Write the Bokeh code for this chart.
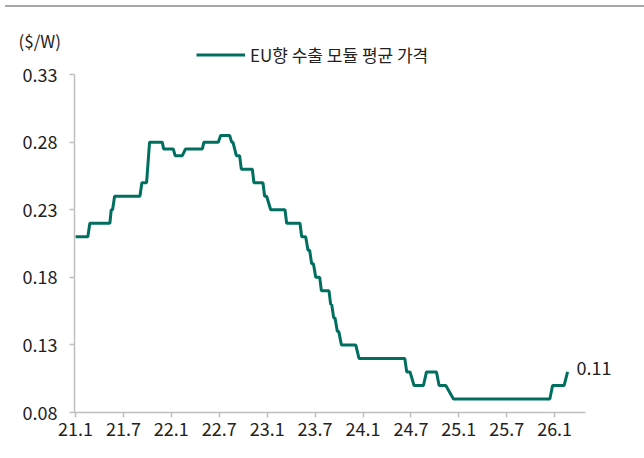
from bokeh.plotting import figure
from bokeh.models import Range1d, FixedTicker, Legend, LegendItem, Label, Div
from bokeh.layouts import column
from bokeh.embed import file_html
from bokeh.resources import INLINE

# months since Jan 2021 (21.1 = 0) and EU export module average price ($/W)
months = [0.00, 1.54, 1.79, 4.30, 4.47, 4.64, 4.89, 8.06, 8.31, 8.90,
          9.27, 10.86, 11.03, 12.24, 12.47, 13.37, 13.78, 15.88, 16.08, 17.88,
          18.17, 19.30, 19.55, 19.71, 20.14, 20.55, 20.76, 22.14, 22.34, 23.47,
          23.68, 23.93, 24.44, 26.23, 26.44, 28.11, 28.32, 28.82, 29.11, 29.32,
          29.57, 29.79, 30.08, 30.58, 30.79, 31.74, 31.95, 32.08, 32.33, 32.49,
          32.79, 32.96, 33.30, 35.09, 35.50, 41.23, 41.48, 41.89, 42.39, 43.57,
          43.95, 45.20, 45.53, 46.37, 47.33, 59.40, 59.74, 61.19, 61.62]
prices = [0.21, 0.21, 0.22, 0.22, 0.23, 0.23, 0.24, 0.24, 0.25, 0.25,
          0.28, 0.28, 0.275, 0.275, 0.27, 0.27, 0.275, 0.275, 0.28, 0.28,
          0.285, 0.285, 0.28, 0.28, 0.27, 0.27, 0.26, 0.26, 0.25, 0.25,
          0.24, 0.24, 0.23, 0.23, 0.22, 0.22, 0.21, 0.21, 0.20, 0.20,
          0.19, 0.19, 0.18, 0.18, 0.17, 0.17, 0.16, 0.16, 0.15, 0.15,
          0.14, 0.14, 0.13, 0.13, 0.12, 0.12, 0.11, 0.11, 0.10, 0.10,
          0.11, 0.11, 0.10, 0.10, 0.09, 0.09, 0.10, 0.10, 0.11]

tick_positions = [0, 6, 12, 18, 24, 30, 36, 42, 48, 54, 60]
tick_labels = ["21.1", "21.7", "22.1", "22.7", "23.1", "23.7", "24.1", "24.7", "25.1", "25.7", "26.1"]
y_ticks = [0.08, 0.13, 0.18, 0.23, 0.28, 0.33]
y_labels = ["0.08", "0.13", "0.18", "0.23", "0.28", "0.33"]
series_name = "EU향 수출 모듈 평균 가격"
unit_text = "($/W)"
last_label = "0.11"

FONT = "Noto Sans CJK KR"
LINE = "#006f60"
AXIS = "#bfbfbf"
TXT = "#222222"

X0, X1 = -0.13, 63.9      # axis extent
Y0, Y1 = 0.08, 0.33

p = figure(width=644, height=440, output_backend="svg", toolbar_location=None,
           title_location=None,
           x_range=Range1d(X0, 69.5), y_range=Range1d(Y0, 0.3552),
           min_border_left=74, min_border_right=14, min_border_top=28, min_border_bottom=40)
p.outline_line_color = None
p.xgrid.visible = False
p.ygrid.visible = False

r = p.line(months, prices, line_color=LINE, line_width=3)

for ax in (p.xaxis[0], p.yaxis[0]):
    ax.axis_line_color = AXIS
    ax.axis_line_width = 1.5
    ax.major_tick_line_color = AXIS
    ax.major_tick_line_width = 1.5
    ax.major_tick_in = 0
    ax.major_tick_out = 5
    ax.minor_tick_line_color = None
    ax.major_label_text_font = FONT
    ax.major_label_text_font_size = "18px"
    ax.major_label_text_color = TXT

p.xaxis.bounds = (X0, X1)
p.yaxis.bounds = (Y0, Y1)
p.xaxis.ticker = FixedTicker(ticks=tick_positions)
p.xaxis.major_label_overrides = {t: l for t, l in zip(tick_positions, tick_labels)}
p.xaxis.major_label_standoff = 4
p.yaxis.ticker = FixedTicker(ticks=y_ticks)
p.yaxis.major_label_overrides = {t: l for t, l in zip(y_ticks, y_labels)}
p.yaxis.major_label_standoff = 12

legend = Legend(items=[LegendItem(label=series_name, renderers=[r])],
                location=(122, 345), glyph_width=49, glyph_height=17, label_height=17,
                label_standoff=5, padding=0, margin=0, border_line_color=None,
                background_fill_alpha=0, label_text_font=FONT,
                label_text_font_size="17px", label_text_color=TXT)
p.add_layout(legend, "center")

p.add_layout(Label(x=18, y=28, x_units="canvas", y_units="canvas", text=unit_text,
                   text_font=FONT, text_font_size="17px", text_color=TXT,
                   text_baseline="middle", text_align="left"), "above")
p.add_layout(Label(x=months[-1], y=prices[-1], x_offset=9, y_offset=4, text=last_label,
                   text_font=FONT, text_font_size="18px", text_color=TXT,
                   text_baseline="middle", text_align="left"))

top_rule = Div(width=644, height=2, styles={"background-color": "#a6a6a6"})
layout = column(top_rule, p)

open("out.html", "w").write(file_html(layout, INLINE))
